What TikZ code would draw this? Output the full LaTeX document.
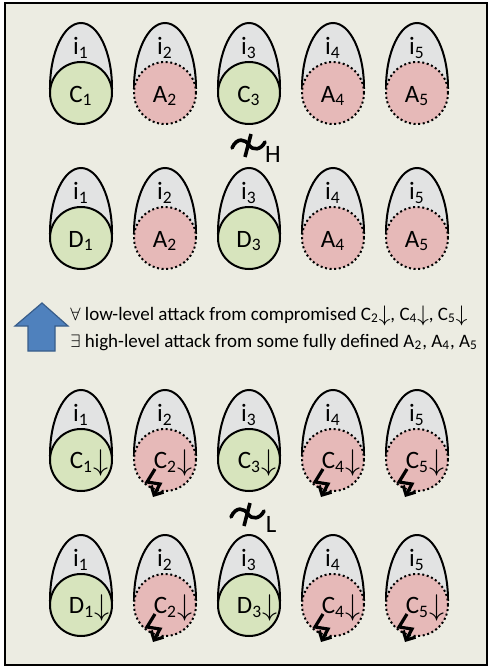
\documentclass[tikz,border=0pt]{standalone}
\usepackage{fontspec}
\setmainfont{Carlito}
\usetikzlibrary{arrows.meta}

\definecolor{paper}{RGB}{236,236,226}
\definecolor{eggtopgray}{RGB}{226,227,227}
\definecolor{safegreen}{RGB}{215,228,189}
\definecolor{hitpink}{RGB}{230,185,184}
\definecolor{upblue}{RGB}{79,129,189}
\definecolor{upedge}{RGB}{56,93,138}

\newcommand{\dnarrow}{\raisebox{-0.15ex}{\scalebox{1.25}{$\downarrow$}}}

\tikzset{
  eggtop/.style={draw, line width=1pt, fill=eggtopgray},
  safe/.style={circle, draw, line width=1pt, fill=safegreen, minimum size=31pt, inner sep=0pt},
  hit/.style={circle, draw, line width=1pt, dash pattern=on 1pt off 1.3pt, fill=hitpink, minimum size=31pt, inner sep=0pt},
  lbl/.style={font=\fontsize{12.5}{14}\selectfont, inner sep=0pt},
  txt/.style={font=\fontsize{9.5}{12}\selectfont, inner sep=0pt},
  bolt/.style={line width=1.6pt, -{Straight Barb[length=3.5pt,width=7pt]}},
  nsimsign/.pic={
    \draw[line width=1.8pt, line cap=round] (-16,3) .. controls (-11,-8) and (-3,-6) .. (1,0)
      .. controls (5,6) and (13,5) .. (17,-3);
    \draw[line width=1.8pt] (3,-11) -- (-3,12);
  }
}

\begin{document}
\begin{tikzpicture}[x=0.5pt,y=-0.5pt]
    % Frame
    \useasboundingbox (0,0) rectangle (490,668);
    \draw[line width=1.1pt, fill=paper] (5,3) rectangle (487,665);

    % Eggs: top shell, then the circle with its label
    \foreach \r/\y/\sl/\hl/\dn/\sh in {1/93/C/A/{}/0pt, 2/238/D/A/{}/0pt,
        3/460/C/C/{\dnarrow}/4pt, 4/605/D/C/{\dnarrow}/4pt}{
      \foreach \c/\x/\kind/\letter in {1/81/safe/\sl, 2/165/hit/\hl,
          3/249/safe/\sl, 4/333/hit/\hl, 5/417/hit/\hl}{
        \coordinate (e\r\c) at (\x,\y);
        \filldraw[eggtop] ([xshift=-15.5pt,yshift=2.5pt]e\r\c)
          arc[start angle=180, end angle=0, x radius=15.5pt, y radius=32.5pt] -- cycle;
        \node[lbl] (i\r\c) at ([yshift=22.5pt]e\r\c) {i\textsubscript{\c}};
        \node[\kind] (k\r\c) at (e\r\c) {};
        \node[lbl] (t\r\c) at ([xshift=\sh,yshift=-1.5pt]e\r\c) {\letter\textsubscript{\c}\dn};
      }
    }

    % Compromised ones
    \foreach \r in {3,4}{
      \foreach \c in {2,4,5}{
        \draw[bolt] ([shift={(-10,9)}]k\r\c.center) -- ([shift={(-18,22)}]k\r\c.center)
          -- ([shift={(-5,24)}]k\r\c.center) -- ([shift={(-12,37)}]k\r\c.center);
      }
    }

    % Not equivalent marks
    \coordinate (nsimh) at (248,145);
    \pic at (nsimh) {nsimsign};
    \node[lbl] (nsimhtag) at (273,154) {H};
    \coordinate (nsiml) at (247,514);
    \pic at (nsiml) {nsimsign};
    \node[lbl] (nsimltag) at (271,524) {L};

    % Up arrow and the two statements
    \filldraw[fill=upblue, draw=upedge, line width=0.6pt]
      (42,303) -- (68,326) -- (55,326) -- (55,351) -- (28,351) -- (28,326) -- (15,326) -- cycle;
    \node[txt, anchor=base west] (forall) at (70,320) {$\forall$ low-level attack from compromised
      C\textsubscript{2}\dnarrow, C\textsubscript{4}\dnarrow, C\textsubscript{5}\dnarrow};
    \node[txt, anchor=base west] (exists) at (70,347) {$\exists$ high-level attack from some fully defined
      A\textsubscript{2}, A\textsubscript{4}, A\textsubscript{5}};

\end{tikzpicture}
\end{document}
